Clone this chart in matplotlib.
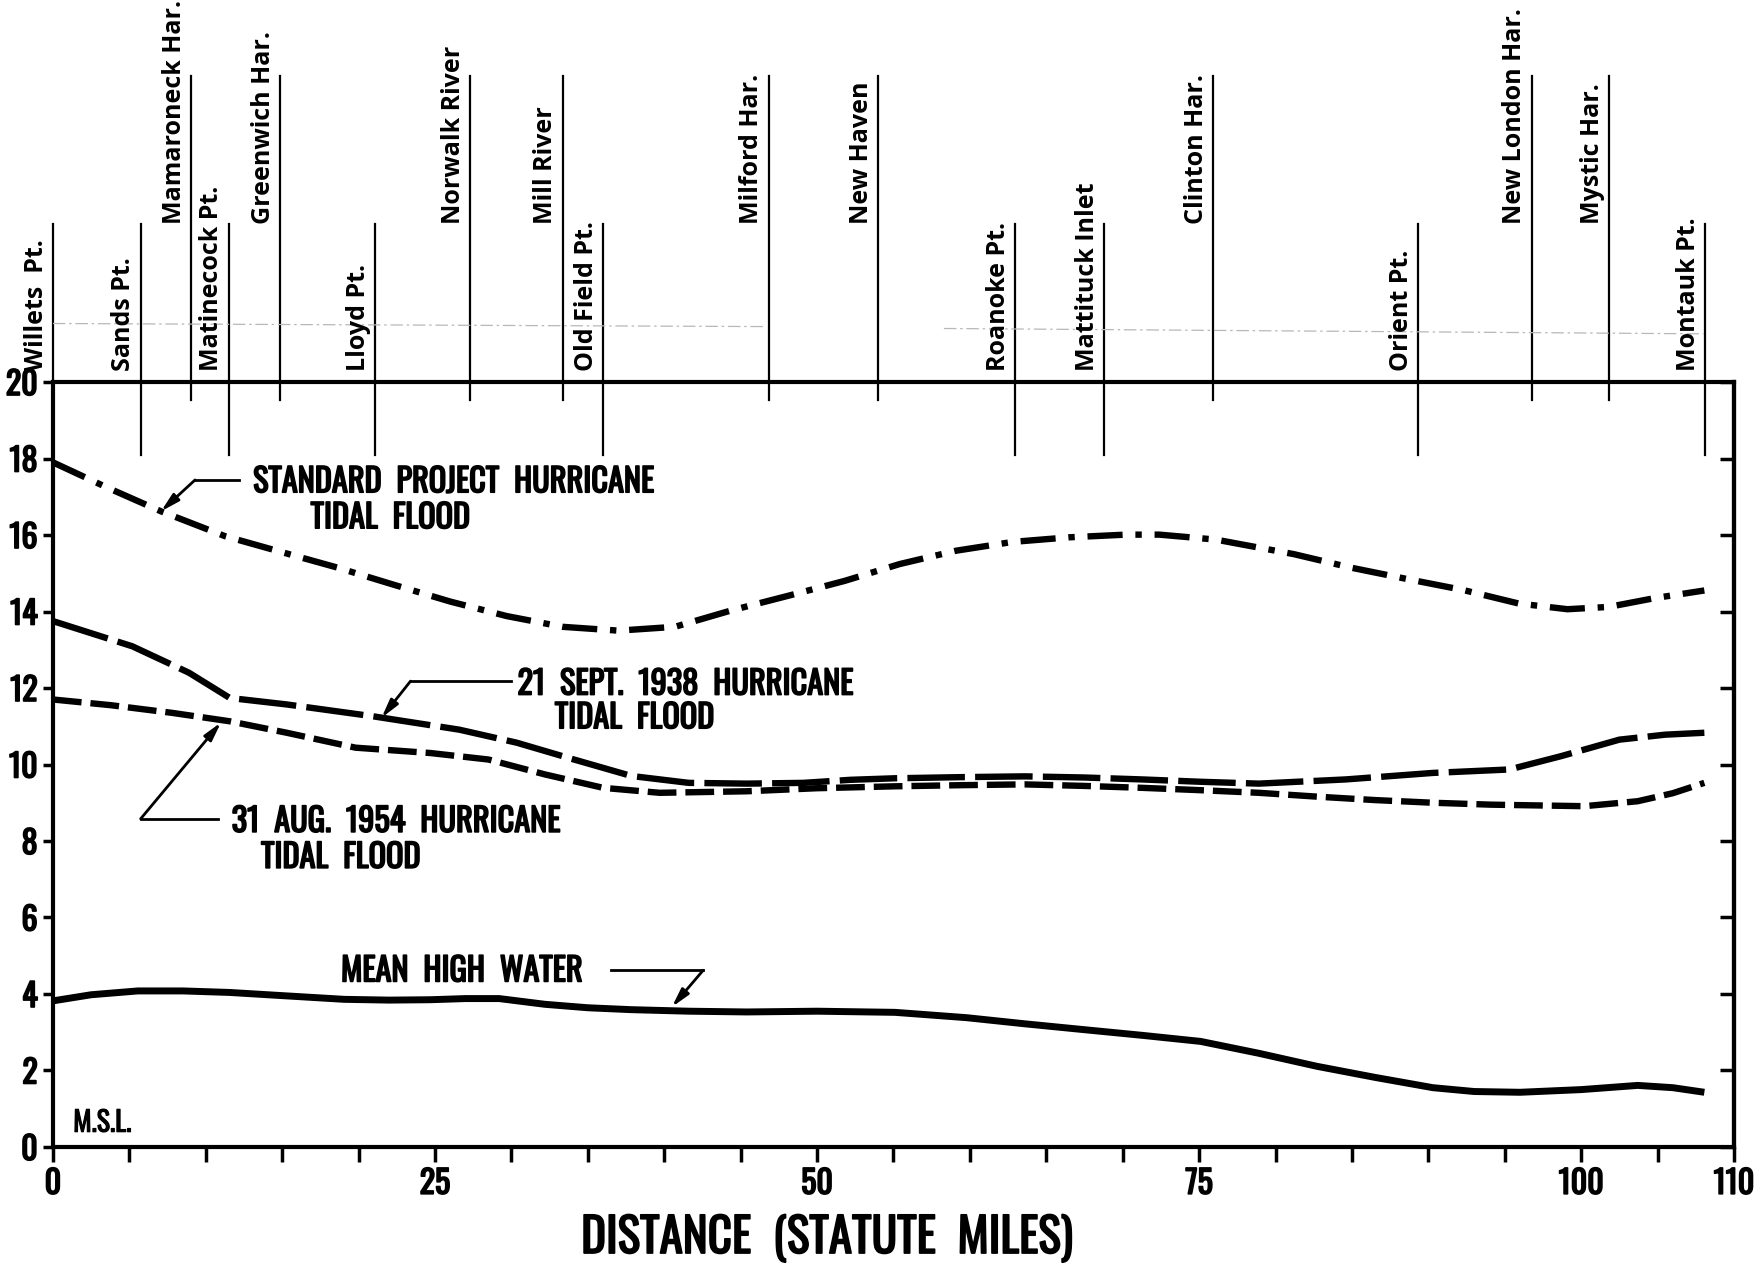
import numpy as np
import matplotlib
matplotlib.use('Agg')
import matplotlib.pyplot as plt
import matplotlib.patheffects as pe

# ── Data (miles along the shore, feet above M.S.L.) ─────────────────────

sph_x = [0, 3.5, 7.07, 11.26, 15.0, 18.6, 22.3, 26.0, 29.7, 33.35, 37.0, 40.7,
         44.4, 48.1, 51.8, 55.4, 59.1, 62.8, 66.5, 70.2, 72.4, 76.1, 81.2,
         84.9, 88.6, 92.3, 95.9, 99.1, 101.8, 104.8, 108.06]
sph_y = [17.9, 17.25, 16.62, 15.97, 15.55, 15.15, 14.7, 14.26, 13.88, 13.6, 13.5, 13.6,
         14.03, 14.41, 14.8, 15.24, 15.59, 15.82, 15.94, 16.01, 16.01, 15.88, 15.5,
         15.15, 14.85, 14.56, 14.21, 14.06, 14.12, 14.35, 14.55]

h1938_x = [0, 5.2, 8.9, 11.57, 15.3, 20.95, 26.6, 30.35, 34.1, 37.85, 41.6, 45.4,
           49.1, 52.2, 55.1, 59.5, 63.6, 67.5, 71.25, 75.0, 78.9, 84.6, 90.3,
           95.3, 98.7, 102.5, 105.5, 108.06]
h1938_y = [13.75, 13.09, 12.4, 11.74, 11.57, 11.26, 10.91, 10.57, 10.13, 9.7, 9.52, 9.5,
           9.52, 9.6, 9.64, 9.67, 9.69, 9.66, 9.61, 9.55, 9.5, 9.61, 9.78,
           9.87, 10.22, 10.65, 10.78, 10.83]

h1954_x = [0, 3.8, 7.8, 11.57, 15.3, 19.8, 24.7, 28.5, 32.2, 36.0, 39.7, 45.4,
           50.0, 55.1, 59.5, 63.6, 67.5, 71.25, 75.0, 78.9, 82.7, 86.5, 90.3,
           94.1, 100.2, 103.7, 106.0, 108.06]
h1954_y = [11.7, 11.55, 11.35, 11.13, 10.83, 10.44, 10.3, 10.13, 9.74, 9.39, 9.26, 9.3,
           9.38, 9.43, 9.46, 9.48, 9.44, 9.39, 9.33, 9.26, 9.16, 9.07, 9.0,
           8.95, 8.91, 9.04, 9.25, 9.52]

mhw_x = [0, 2.5, 5.56, 8.5, 11.57, 15.3, 19.07, 22.0, 24.7, 27.0, 29.2, 32.2, 35.0,
         37.85, 41.6, 45.4, 50.0, 55.1, 59.8, 63.6, 67.4, 71.25, 75.1, 78.9, 82.7,
         86.5, 90.3, 93.0, 96.0, 100.0, 103.7, 106.0, 108.06]
mhw_y = [3.82, 3.98, 4.08, 4.08, 4.04, 3.95, 3.86, 3.84, 3.85, 3.88, 3.88, 3.73, 3.64,
         3.59, 3.55, 3.53, 3.55, 3.52, 3.38, 3.22, 3.07, 2.92, 2.76, 2.45, 2.11,
         1.82, 1.55, 1.45, 1.43, 1.5, 1.61, 1.55, 1.43]

# Connecticut shore stations (long lines above the frame)
ct_names = ['Mamaroneck Har.', 'Greenwich Har.', 'Norwalk River', 'Mill River',
            'Milford Har.', 'New Haven', 'Clinton Har.', 'New London Har.',
            'Mystic Har.']
ct_miles = [9.06, 14.87, 27.3, 33.35, 46.83, 53.97, 75.9, 96.75, 101.83]

# Long Island shore stations (short lines, reach into the frame)
li_names = ['Willets  Pt.', 'Sands Pt.', 'Matinecock Pt.', 'Lloyd Pt.',
            'Old Field Pt.', 'Roanoke Pt.', 'Mattituck Inlet', 'Orient Pt.',
            'Montauk Pt.']
li_miles = [0, 5.74, 11.49, 21.06, 36.0, 62.95, 68.77, 89.31, 108.1]

x_ticks = list(range(0, 111, 5))
x_ticklabels = {0: '0', 25: '25', 50: '50', 75: '75', 100: '100', 110: '110'}
y_ticks = list(range(0, 21, 2))

# faint scan guide line above the frame
guide_x = [[0, 46.5], [58.3, 108.0]]
guide_y = [[21.53, 21.45], [21.4, 21.26]]

NARROW = ['Oswald', 'DejaVu Sans']
HUMAN = ['Open Sans', 'DejaVu Sans']
BOLDEN = [pe.withStroke(linewidth=1.2, foreground='k')]

# ── Figure ──────────────────────────────────────────────────────────────

fig = plt.figure(figsize=(17.64, 12.65), dpi=100)
ax = fig.add_axes([0.0300, 0.0933, 0.9530, 0.6047])
ax.set_xlim(0, 110)
ax.set_ylim(0, 20)

for s in ax.spines.values():
    s.set_linewidth(3)

ax.set_xticks(x_ticks)
ax.set_xticklabels([x_ticklabels.get(t, '') for t in x_ticks],
                   fontfamily=NARROW, fontsize=23)
ax.set_yticks(y_ticks)
ax.set_yticklabels([str(t) for t in y_ticks], fontfamily=NARROW, fontsize=23)
for lbl in ax.get_xticklabels() + ax.get_yticklabels():
    lbl.set_path_effects(BOLDEN)
ax.tick_params(axis='x', direction='out', length=11, width=2.5, pad=4)
ax.tick_params(axis='y', direction='out', length=7, width=2.5, pad=4)

sec = ax.secondary_yaxis('right')
sec.set_yticks(y_ticks)
sec.tick_params(direction='in', length=10, width=2.5, labelright=False)
sec.spines['right'].set_linewidth(3)

# curves
ax.plot(sph_x, sph_y, color='k', lw=4.6, dashes=(5.5, 2, 1, 2),
        dash_capstyle='butt')
ax.plot(h1938_x, h1938_y, color='k', lw=4.6, dashes=(9, 1.6),
        dash_capstyle='butt')
ax.plot(h1954_x, h1954_y, color='k', lw=4.6, dashes=(4.5, 1.4),
        dash_capstyle='butt')
ax.plot(mhw_x, mhw_y, color='k', lw=5, solid_capstyle='butt')

# station lines and names
for name, m in zip(ct_names, ct_miles):
    ax.plot([m, m], [19.53, 28.0], color='k', lw=1.6, clip_on=False)
    ax.annotate(name, xy=(m, 24.12), xytext=(-3, 0), textcoords='offset points',
                rotation=90, ha='right', va='bottom', fontsize=18,
                fontfamily=HUMAN, fontweight='bold', annotation_clip=False)
for name, m in zip(li_names, li_miles):
    ax.plot([m, m], [18.09, 24.12], color='k', lw=1.6, clip_on=False)
    ax.annotate(name, xy=(m, 20.3), xytext=(-3, 0), textcoords='offset points',
                rotation=90, ha='right', va='bottom', fontsize=18,
                fontfamily=HUMAN, fontweight='bold', annotation_clip=False)

for gx, gy in zip(guide_x, guide_y):
    ax.plot(gx, gy, color='#b8b8b8', lw=0.9, dashes=(10, 3, 2, 3), clip_on=False)

# leaders with arrowheads
def leader(start, corner, tip):
    ax.plot([start[0], corner[0]], [start[1], corner[1]], color='k', lw=2)
    ax.annotate('', xy=tip, xytext=corner,
                arrowprops=dict(arrowstyle='-|>,head_length=1.1,head_width=0.28',
                                lw=2, color='k', shrinkA=0, shrinkB=0))

leader((12.15, 17.44), (9.3, 17.44), (7.07, 16.62))
leader((30.0, 12.18), (23.4, 12.18), (21.5, 11.22))
leader((10.82, 8.58), (5.74, 8.58), (11.0, 11.1))
leader((36.5, 4.62), (42.55, 4.62), (40.5, 3.66))

tk = dict(fontfamily=NARROW, fontsize=23.3, ha='left', va='center',
          path_effects=BOLDEN)
ax.text(13.1, 17.38, 'STANDARD  PROJECT  HURRICANE', **tk)
ax.text(16.86, 16.44, 'TIDAL  FLOOD', **tk)
ax.text(30.4, 12.09, '21  SEPT.  1938  HURRICANE', **tk)
ax.text(32.84, 11.21, 'TIDAL  FLOOD', **tk)
ax.text(11.7, 8.5, '31  AUG.  1954  HURRICANE', **tk)
ax.text(13.62, 7.56, 'TIDAL  FLOOD', **tk)
ax.text(18.85, 4.59, 'MEAN  HIGH  WATER', **tk)
ax.text(1.33, 0.62, 'M.S.L.', fontfamily=NARROW, fontsize=20,
        ha='left', va='center', path_effects=[pe.withStroke(linewidth=0.8, foreground='k')])

fig.text(0.469, 0.021, 'DISTANCE  (STATUTE  MILES)', fontfamily=NARROW,
         fontsize=34, ha='center', va='center', path_effects=BOLDEN)

fig.savefig('out.png', dpi=100)
